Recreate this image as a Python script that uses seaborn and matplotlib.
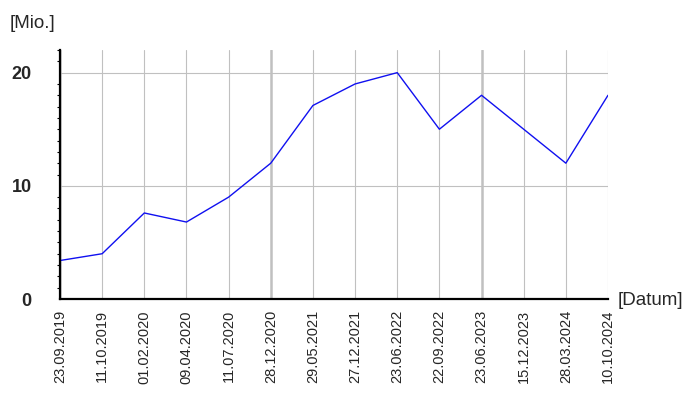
import numpy as np
import pandas as pd
import matplotlib
matplotlib.use('Agg')
import matplotlib.pyplot as plt
import seaborn as sns
from matplotlib.ticker import MultipleLocator

datum = ['23.09.2019', '11.10.2019', '01.02.2020', '09.04.2020', '11.07.2020',
         '28.12.2020', '29.05.2021', '27.12.2021', '23.06.2022', '22.09.2022',
         '23.06.2023', '15.12.2023', '28.03.2024', '10.10.2024']
werte = [3.4, 4.0, 7.6, 6.8, 9.0, 12.0, 17.1, 19.0, 20.0, 15.0, 18.0, 15.0, 12.0, 18.0]

df = pd.DataFrame({'pos': np.arange(len(datum)), 'wert': werte})

sns.set_style('white')
plt.rcParams['font.family'] = ['Liberation Sans', 'DejaVu Sans']

fig = plt.figure(figsize=(7, 4), dpi=100)
ax = fig.add_axes([60/700, 101/400, 548/700, 249/400])

sns.lineplot(data=df, x='pos', y='wert', ax=ax, color='#1010f0', linewidth=1.0)

ax.set_xlim(0, len(datum) - 1)
ax.set_ylim(0, 22)
ax.set_xticks(df['pos'])
ax.set_xticklabels(datum, rotation=90, fontsize=10.5)
ax.set_yticks([0, 10, 20])
ax.set_yticklabels(['0', '10', '20'], fontsize=13, fontweight='bold')
ax.yaxis.set_minor_locator(MultipleLocator(1))

ax.grid(True, which='major', color='#c0c0c0', linewidth=0.8)
ax.set_axisbelow(True)

for s in ['top', 'right']:
    ax.spines[s].set_visible(False)
for s in ['left', 'bottom']:
    ax.spines[s].set_color('black')
    ax.spines[s].set_linewidth(1.6)

ax.tick_params(axis='x', which='major', length=5, width=1, color='black', pad=3)
ax.tick_params(axis='y', which='major', length=7.5, width=1.2, color='black', pad=13)
ax.tick_params(axis='y', which='minor', length=2.2, width=0.8, color='black', left=True)

# jeder fuenfte Termin dicker
for i, t in enumerate(ax.xaxis.get_major_ticks()):
    if i % 5 == 0:
        t.tick1line.set_markeredgewidth(2.2)
        t.gridline.set_linewidth(1.8)

ax.set_xlabel('')
ax.set_ylabel('')
fig.text(10/700, 1 - 28/400, '[Mio.]', fontsize=13.5, ha='left', va='baseline')
fig.text(618/700, 1 - 305/400, '[Datum]', fontsize=13.5, ha='left', va='baseline')

fig.savefig('out.png', dpi=100)
